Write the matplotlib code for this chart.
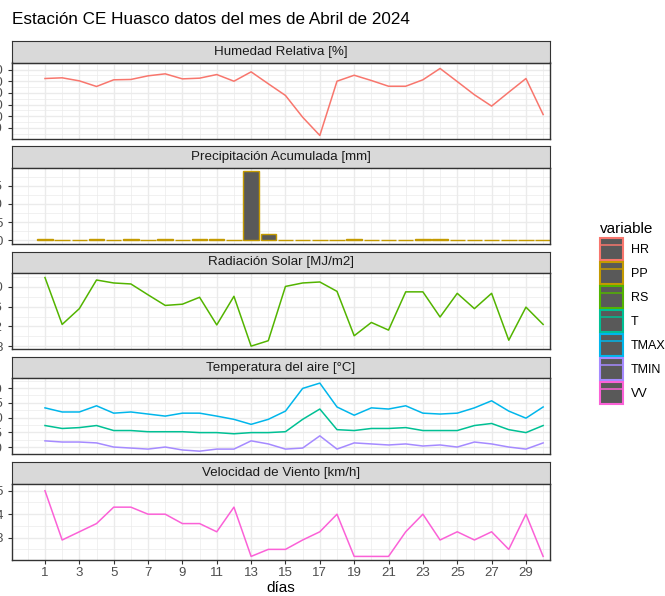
import matplotlib
matplotlib.use("Agg")
import matplotlib.pyplot as plt
from matplotlib.patches import Patch
from matplotlib.lines import Line2D
from matplotlib.ticker import FixedLocator
import numpy as np

plt.rcParams['font.family'] = ['Liberation Sans', 'DejaVu Sans']

# ---- data ----
dias = np.arange(1, 31)
hr = [82.3, 82.9, 80.3, 75.5, 81.2, 81.5, 84.6, 86.3, 82.0, 82.6,
      85.7, 80.0, 88.0, 77.8, 67.8, 49.2, 33.6, 80.0, 85.1, 80.6,
      75.7, 75.7, 81.2, 90.9, 79.7, 68.4, 58.7, 70.6, 82.3, 51.5]
pp = [0.3, 0.0, 0.0, 0.3, 0.0, 0.4, 0.2, 0.4, 0.0, 0.3,
      0.3, 0.2, 19.0, 1.7, 0.2, 0.0, 0.0, 0.0, 0.3, 0.0,
      0.0, 0.0, 0.3, 0.4, 0.0, 0.0, 0.0, 0.0, 0.0, 0.0]
rs = [21.9, 12.4, 15.6, 21.4, 20.8, 20.6, 18.4, 16.25, 16.5, 17.9,
      12.3, 18.1, 8.0, 9.1, 20.1, 20.8, 21.0, 19.1, 10.1, 12.8,
      11.25, 19.0, 19.0, 13.9, 18.7, 15.6, 18.7, 9.2, 15.9, 12.4]
t = [17.3, 16.3, 16.6, 17.3, 15.6, 15.6, 15.2, 15.2, 15.2, 14.9,
     14.9, 14.5, 14.9, 14.9, 15.2, 19.4, 22.9, 15.9, 15.6, 16.3,
     16.3, 16.6, 15.6, 15.6, 15.6, 17.3, 18.0, 15.9, 14.9, 17.3]
tmax = [23.3, 21.9, 21.9, 24.0, 21.5, 21.9, 21.2, 20.5, 21.5, 21.5,
        20.5, 19.4, 17.7, 19.4, 22.2, 29.9, 31.7, 23.6, 20.8, 23.3,
        22.9, 24.0, 21.5, 21.2, 21.5, 23.3, 25.7, 22.2, 19.8, 23.6]
tmin = [12.1, 11.7, 11.7, 11.4, 10.0, 9.65, 9.3, 10.0, 9.0, 8.6,
        9.3, 9.3, 12.1, 11.05, 9.3, 9.65, 13.8, 9.3, 11.4, 11.05,
        10.7, 11.05, 10.35, 10.7, 10.0, 11.7, 11.05, 10.0, 9.3, 11.4]
vv = [5.0, 2.9, 3.25, 3.6, 4.3, 4.3, 4.0, 4.0, 3.6, 3.6,
      3.25, 4.3, 2.2, 2.5, 2.5, 2.9, 3.25, 4.0, 2.2, 2.2,
      2.2, 3.25, 4.0, 2.9, 3.25, 2.9, 3.25, 2.5, 4.0, 2.2]

variables = ["HR", "PP", "RS", "T", "TMAX", "TMIN", "VV"]
colores = ["#F8766D", "#C49A00", "#53B400", "#00C094", "#00B6EB", "#A58AFF", "#FB61D7"]
col = dict(zip(variables, colores))

# (strip title, series, y limits, y ticks)
paneles = [
    ("Humedad Relativa [%]", {"HR": hr}, (31.0, 96.0), [40, 50, 60, 70, 80, 90]),
    ("Precipitación Acumulada [mm]", {"PP": pp}, (-0.95, 19.95), [0, 5, 10, 15]),
    ("Radiación Solar [MJ/m2]", {"RS": rs}, (7.4, 22.8), [8, 12, 16, 20]),
    ("Temperatura del aire [°C]", {"T": t, "TMAX": tmax, "TMIN": tmin}, (7.5, 33.3), [10, 15, 20, 25, 30]),
    ("Velocidad de Viento [km/h]", {"VV": vv}, (2.06, 5.3), [3, 4, 5]),
]

W, H = 665, 596
fig = plt.figure(figsize=(W / 100, H / 100), dpi=100)


def box(x0, y0, x1, y1):
    return [x0 / W, 1 - y1 / H, (x1 - x0) / W, (y1 - y0) / H]


GRID = "#EBEBEB"
DARK = "#333333"
x0, x1 = 12, 550
top, period, strip_h, panel_h = 41, 105.3, 21.5, 76

for k, (titulo, series, ylim, yticks) in enumerate(paneles):
    ys = top + k * period
    sax = fig.add_axes(box(x0, ys, x1, ys + strip_h))
    sax.set_facecolor("#D9D9D9")
    sax.set_xticks([]), sax.set_yticks([])
    for s in sax.spines.values():
        s.set_color(DARK), s.set_linewidth(0.8)
    sax.text(0.5, 0.5, titulo, ha="center", va="center", fontsize=9.6,
             color="#1A1A1A", transform=sax.transAxes)

    ax = fig.add_axes(box(x0, ys + strip_h, x1, ys + strip_h + panel_h))
    for name, vals in series.items():
        if name == "PP":
            ax.bar(dias, vals, width=0.9, color="#595959", edgecolor=col[name],
                   linewidth=1.0, zorder=2)
        else:
            ax.plot(dias, vals, color=col[name], lw=1.1, zorder=3)

    ax.set_xlim(-0.92, 30.4)
    ax.set_ylim(*ylim)
    ax.xaxis.set_major_locator(FixedLocator(range(-1, 32, 2)))
    ax.xaxis.set_minor_locator(FixedLocator(range(0, 32, 2)))
    ax.yaxis.set_major_locator(FixedLocator(yticks))
    step = yticks[1] - yticks[0]
    ax.yaxis.set_minor_locator(FixedLocator(
        np.arange(yticks[0] - step / 2, yticks[-1] + step, step)))
    ax.grid(which="major", color=GRID, lw=1.0, zorder=0)
    ax.grid(which="minor", color=GRID, lw=0.5, zorder=0)
    ax.set_axisbelow(True)
    for s in ax.spines.values():
        s.set_color(DARK), s.set_linewidth(1.0)
    ax.tick_params(axis="y", which="major", length=2.7, width=0.8, color=DARK,
                   labelsize=9.5, labelcolor="#4D4D4D", pad=4.0)
    ax.tick_params(which="minor", length=0)
    if k == len(paneles) - 1:
        ax.tick_params(axis="x", which="major", length=2.7, width=0.8, color=DARK,
                       labelsize=9.5, labelcolor="#4D4D4D", pad=2.2)
        ax.set_xlabel("días", fontsize=11, labelpad=2)
    else:
        ax.tick_params(axis="x", which="major", length=0, labelbottom=False)

fig.text(12 / W, 1 - 20 / H, "Estación CE Huasco datos del mes de Abril de 2024",
         fontsize=12.3, ha="left", va="center")

handles = [(Patch(facecolor="#595959", edgecolor=c, lw=1.5),
            Line2D([0], [0], color=c, lw=1.1)) for c in colores]
fig.legend(handles, variables, loc="upper left",
           bbox_to_anchor=(600 / W, 1 - 222 / H), frameon=False,
           title="variable", alignment="left", borderpad=0, borderaxespad=0,
           handlelength=1.8, handleheight=2.4, handletextpad=0.65,
           labelspacing=0.12, fontsize=9, title_fontsize=11)

fig.savefig("out.png", dpi=100)
